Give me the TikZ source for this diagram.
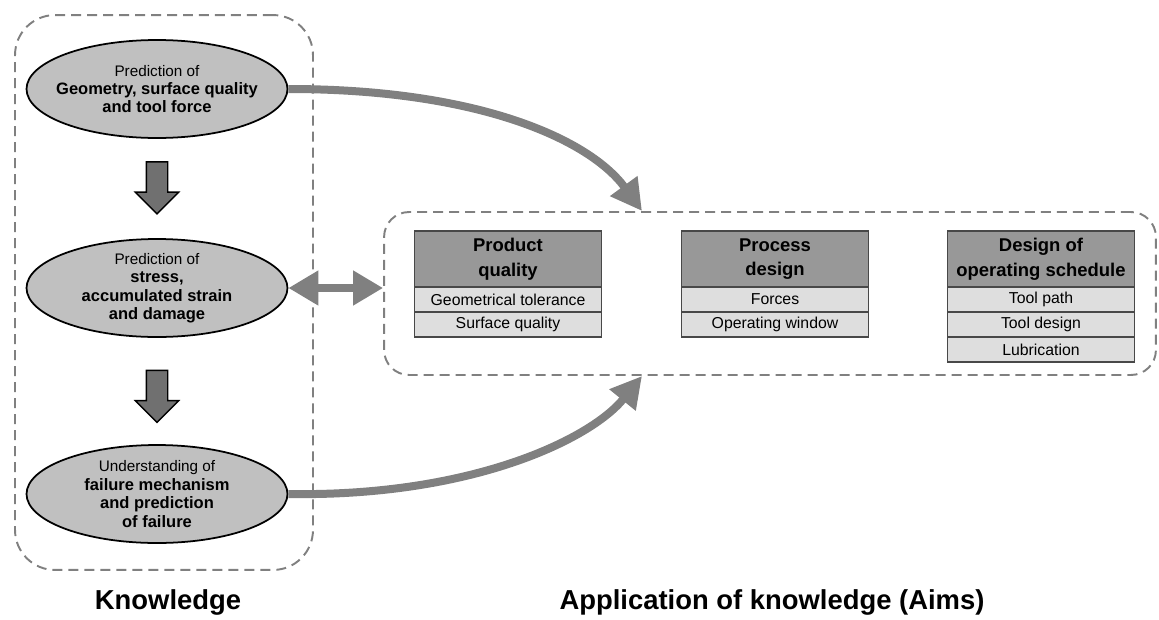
\documentclass[tikz,border=0pt]{standalone}
\usepackage{fontspec}
\setmainfont{Liberation Sans}
\usepackage{tikz}
\usetikzlibrary{arrows.meta,positioning,shapes,calc}
\definecolor{linegray}{RGB}{128,128,128}
\definecolor{ellfill}{RGB}{192,192,192}
\definecolor{headfill}{RGB}{152,152,152}
\definecolor{cellfill}{RGB}{222,222,222}
\definecolor{blockgray}{RGB}{112,112,112}
\definecolor{tabline}{RGB}{72,72,72}
\pgfdeclarelayer{front}
\pgfsetlayers{main,front}
\newcommand{\predline}[1]{{\mdseries\fontsize{8.7}{10.5}\selectfont #1}}
\tikzset{
  % dashed frames
  group/.style={draw=linegray, line width=1.1pt, dash pattern=on 0.2cm off 0.12cm},
  % knowledge ellipses
  know/.style={
    ellipse, draw=black, line width=1pt, fill=ellfill,
    minimum width=5.22cm, minimum height=1.96cm,
    inner xsep=-0.3cm, inner ysep=-0.3cm, align=center,
    font=\fontsize{9.4}{10.5}\selectfont\bfseries
  },
  % down arrows between ellipses
  blockarr/.style={
    single arrow, draw=black, line width=0.8pt, fill=blockgray,
    minimum height=1.04cm, inner sep=0.2cm,
    single arrow head extend=0.22cm, rotate=-90
  },
  % table header and rows
  head/.style={
    draw=tabline, line width=0.8pt, fill=headfill, outer sep=0pt,
    minimum width=3.74cm, minimum height=1.12cm, align=center,
    font=\fontsize{10.5}{14}\selectfont\bfseries
  },
  cell/.style={
    draw=tabline, line width=0.8pt, fill=cellfill, outer sep=0pt,
    minimum width=3.74cm, minimum height=0.5cm, inner sep=0pt,
    font=\fontsize{9}{11}\selectfont
  },
  % thick grey connectors
  flow/.style={draw=linegray, line width=0.16cm,
    -{Triangle[length=0.62cm, width=0.64cm]}},
  biflow/.style={draw=linegray, line width=0.16cm,
    {Triangle[length=0.6cm, width=0.66cm]}-{Triangle[length=0.6cm, width=0.66cm]}},
  caption/.style={font=\fontsize{15.6}{18}\selectfont\bfseries},
}

\begin{document}
\begin{tikzpicture}[x=0.02cm, y=-0.02cm]
  \useasboundingbox (0,0) rectangle (1159,619);

  % Knowledge
  \node[know] (geom) at (157,89) {\predline{Prediction of}\\Geometry, surface quality\\and tool force};
  \node[know] (stress) at (157,288) {\predline{Prediction of}\\stress,\\accumulated strain\\and damage};
  \node[know] (fail) at (157,494) {\predline{Understanding of}\\failure mechanism\\and prediction\\of failure};
  \node[blockarr] (down1) at ($(geom.south)!0.5!(stress.north)+(0,-6)$) {};
  \node[blockarr] (down2) at ($(stress.south)!0.5!(fail.north)$) {};

  % Aims tables
  \node[head] (pq) at (508,259) {Product\\quality};
  \node[cell, below=0pt of pq] (pq1) {Geometrical tolerance};
  \node[cell, below=0pt of pq1] (pq2) {Surface quality};

  \node[head] (pd) at (775,259) {Process\\design};
  \node[cell, below=0pt of pd] (pd1) {Forces};
  \node[cell, below=0pt of pd1] (pd2) {Operating window};

  \node[head] (os) at (1041,259) {Design of\\operating schedule};
  \node[cell, below=0pt of os] (os1) {Tool path};
  \node[cell, below=0pt of os1] (os2) {Tool design};
  \node[cell, below=0pt of os2] (os3) {Lubrication};

  % frames
  \begin{pgfonlayer}{front}
    \node[group, rounded corners=0.8cm, minimum width=5.96cm, minimum height=11.1cm] (knowbox) at (164,292.5) {};
    \node[group, rounded corners=0.5cm, minimum width=15.44cm, minimum height=3.26cm] (aimbox) at (770,293.5) {};
  \end{pgfonlayer}
  \coordinate (toptip) at (642,211);
  \coordinate (bottip) at (642,376);

  % connectors
  \draw[flow] (geom.east) .. controls (480,89) and (590,140) .. (toptip);
  \draw[flow] (fail.east) .. controls (470,497) and (590,440) .. (bottip);
  \draw[biflow] (stress.east) -- (stress.east -| aimbox.west);

  \node[caption] (knowlab) at (168,602) {Knowledge};
  \node[caption] (aimlab) at (772,602) {Application of knowledge (Aims)};
\end{tikzpicture}
\end{document}
